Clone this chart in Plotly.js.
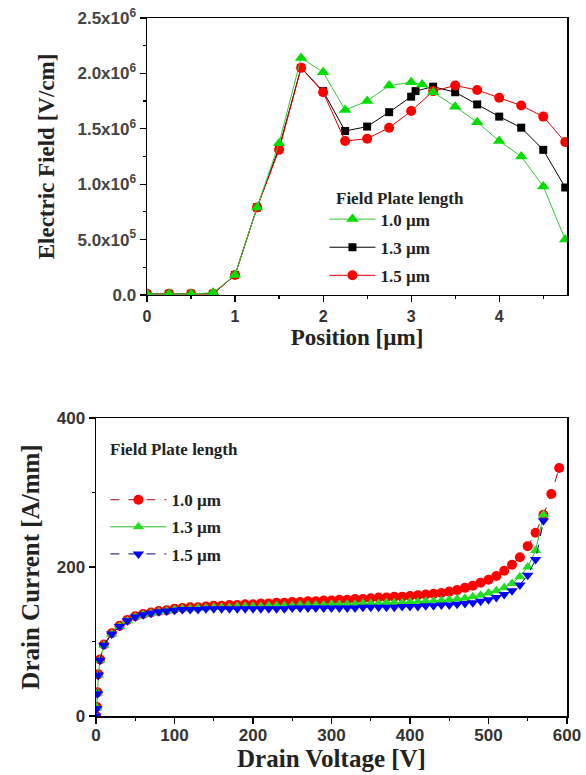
<!DOCTYPE html>
<html>
<head>
<meta charset="utf-8">
<script src="https://cdn.plot.ly/plotly-3.0.1.min.js"></script>
<style>html,body{margin:0;padding:0;background:#fff;}#chart{width:586px;height:775px;}</style>
</head>
<body>
<div id="chart"></div>
<script>
// ---- Top panel: Electric field vs position ----
const posFP10 = [0, 0.25, 0.5, 0.75, 1.0, 1.25, 1.5, 1.75, 2.0, 2.25, 2.5, 2.75, 3.0, 3.125, 3.25, 3.5, 3.75, 4.0, 4.25, 4.5, 4.75];
const fieldFP10 = [0.01e6, 0.01e6, 0.01e6, 0.02e6, 0.18e6, 0.79e6, 1.37e6, 2.14e6, 2.01e6, 1.67e6, 1.75e6, 1.89e6, 1.92e6, 1.90e6, 1.83e6, 1.70e6, 1.56e6, 1.39e6, 1.25e6, 0.98e6, 0.50e6];
const posFP13 = [0, 0.25, 0.5, 0.75, 1.0, 1.25, 1.5, 1.75, 2.0, 2.25, 2.5, 2.75, 3.0, 3.05, 3.25, 3.5, 3.75, 4.0, 4.25, 4.5, 4.75];
const fieldFP13 = [0.01e6, 0.01e6, 0.01e6, 0.01e6, 0.18e6, 0.79e6, 1.33e6, 2.05e6, 1.84e6, 1.48e6, 1.52e6, 1.65e6, 1.79e6, 1.84e6, 1.88e6, 1.83e6, 1.72e6, 1.61e6, 1.51e6, 1.31e6, 0.97e6];
const posFP15 = [0, 0.25, 0.5, 0.75, 1.0, 1.25, 1.5, 1.75, 2.0, 2.25, 2.5, 2.75, 3.0, 3.25, 3.5, 3.75, 4.0, 4.25, 4.5, 4.75];
const fieldFP15 = [0.01e6, 0.01e6, 0.01e6, 0.01e6, 0.18e6, 0.79e6, 1.31e6, 2.05e6, 1.83e6, 1.39e6, 1.41e6, 1.51e6, 1.66e6, 1.84e6, 1.89e6, 1.85e6, 1.78e6, 1.71e6, 1.61e6, 1.38e6];
const topNames = ["1.0 µm", "1.3 µm", "1.5 µm"];
const fieldTickVals = [0, 0.5e6, 1.0e6, 1.5e6, 2.0e6, 2.5e6];
const fieldTickText = ["0.0", "5.0x10<sup>5</sup>", "1.0x10<sup>6</sup>", "1.5x10<sup>6</sup>", "2.0x10<sup>6</sup>", "2.5x10<sup>6</sup>"];

// ---- Bottom panel: Drain current vs drain voltage ----
const vdShort = [0, 1, 2, 3, 5, 10, 20, 30, 40, 50, 60, 70, 80, 90, 100, 110, 120, 130, 140, 150, 160, 170, 180, 190, 200, 210, 220, 230, 240, 250, 260, 270, 280, 290, 300, 310, 320, 330, 340, 350, 360, 370, 380, 390, 400, 410, 420, 430, 440, 450, 460, 470, 480, 490, 500, 510, 520, 530, 540, 550, 560, 570];
const vdLong = [0, 1, 2, 3, 5, 10, 20, 30, 40, 50, 60, 70, 80, 90, 100, 110, 120, 130, 140, 150, 160, 170, 180, 190, 200, 210, 220, 230, 240, 250, 260, 270, 280, 290, 300, 310, 320, 330, 340, 350, 360, 370, 380, 390, 400, 410, 420, 430, 440, 450, 460, 470, 480, 490, 500, 510, 520, 530, 540, 550, 560, 570, 580, 590];
const idFP10 = [0, 12, 32, 56, 76, 96, 111, 121, 129, 134, 137, 139, 141, 142, 144, 145, 146, 146, 147, 148, 148, 149, 149, 150, 150, 151, 151, 152, 152, 153, 153, 154, 154, 155, 155, 156, 156, 157, 157, 158, 159, 159, 160, 160, 161, 162, 163, 164, 165, 167, 169, 172, 175, 179, 183, 188, 195, 203, 213, 228, 246, 270, 298, 333];
const idFP13 = [0, 11, 31, 55, 75, 95, 110, 120, 128, 133, 136, 138, 140, 141, 143, 144, 144, 145, 145, 146, 146, 146, 147, 147, 147, 147, 148, 148, 148, 148, 149, 149, 149, 149, 150, 150, 150, 150, 151, 151, 151, 152, 152, 152, 153, 153, 154, 154, 155, 156, 157, 158, 160, 162, 165, 168, 172, 178, 187, 200, 222, 270];
const idFP15 = [0, 10, 30, 55, 75, 95, 110, 120, 128, 133, 136, 138, 140, 141, 142, 143, 143, 143, 144, 144, 144, 144, 144, 144, 144, 144, 144, 144, 144, 145, 145, 145, 145, 145, 145, 145, 145, 145, 146, 146, 146, 146, 146, 147, 147, 147, 148, 148, 149, 149, 150, 151, 152, 154, 156, 159, 163, 168, 176, 189, 210, 262];
const bottomNames = ["1.0 µm", "1.3 µm", "1.5 µm"];

const serif = "Liberation Serif, Times New Roman, serif";
const sans = "Liberation Sans, Arial, sans-serif";

const traces = [
  {x: posFP13, y: fieldFP13, name: topNames[1], xaxis: "x", yaxis: "y", legend: "legend", legendrank: 2, legendgroup: "t2",
   mode: "lines+markers", line: {color: "#000000", width: 1}, marker: {symbol: "square", size: 8, color: "#000000"}},
  {x: posFP15, y: fieldFP15, name: topNames[2], xaxis: "x", yaxis: "y", legend: "legend", legendrank: 3, legendgroup: "t3",
   mode: "lines+markers", line: {color: "#e00000", width: 1}, marker: {symbol: "circle", size: 10, color: "#ff0000"}},
  {x: posFP10, y: fieldFP10, name: topNames[0], xaxis: "x", yaxis: "y", legend: "legend", legendrank: 1, legendgroup: "t1",
   mode: "lines+markers", line: {color: "#33cc33", width: 1}, marker: {symbol: "triangle-up", size: 11, color: "#00dd00"}},
  {x: vdLong, y: idFP10, name: bottomNames[0], xaxis: "x2", yaxis: "y2", legend: "legend2", legendrank: 1, legendgroup: "b1",
   mode: "lines+markers", line: {color: "#b00020", width: 1, dash: "dash"}, marker: {symbol: "circle", size: 10, color: "#ff0000"}},
  {x: vdShort, y: idFP13, name: bottomNames[1], xaxis: "x2", yaxis: "y2", legend: "legend2", legendrank: 2, legendgroup: "b2",
   mode: "lines+markers", line: {color: "#22bb22", width: 1}, marker: {symbol: "triangle-up", size: 10, color: "#22dd22"}},
  {x: vdShort, y: idFP15, name: bottomNames[2], xaxis: "x2", yaxis: "y2", legend: "legend2", legendrank: 3, legendgroup: "b3",
   mode: "lines+markers", line: {color: "#000080", width: 1, dash: "dash"}, marker: {symbol: "triangle-down", size: 10, color: "#0000ff"}}
];

const axisCommon = {
  showline: true, mirror: true, linecolor: "#000", linewidth: 1.5,
  ticks: "outside", ticklen: 6, tickwidth: 1.2, tickcolor: "#000",
  showgrid: false, zeroline: false, automargin: false
};

const layout = {
  width: 586, height: 775,
  margin: {l: 96, r: 19, t: 18, b: 59},
  paper_bgcolor: "#fff", plot_bgcolor: "#fff",
  showlegend: true,
  xaxis: Object.assign({}, axisCommon, {
    domain: [0.1083, 1], anchor: "y", range: [0, 4.77],
    tickvals: [0, 1, 2, 3, 4],
    minor: {tickvals: [0.5, 1.5, 2.5, 3.5, 4.5], ticklen: 3, tickcolor: "#000", ticks: "outside"},
    tickfont: {family: sans, size: 16, color: "#333", weight: "bold"},
    title: {text: "Position [µm]", standoff: 3, font: {family: serif, size: 23, color: "#222", weight: "bold"}}
  }),
  yaxis: Object.assign({}, axisCommon, {
    domain: [0.6032, 1], anchor: "x", range: [0, 2.5e6],
    tickvals: fieldTickVals, ticktext: fieldTickText,
    minor: {tickvals: [0.25e6, 0.75e6, 1.25e6, 1.75e6, 2.25e6], ticklen: 3, tickcolor: "#000", ticks: "outside"},
    tickfont: {family: sans, size: 17, color: "#444", weight: "bold"},
    title: {text: "Electric Field [V/cm]", standoff: 16, font: {family: serif, size: 23, color: "#222", weight: "bold"}}
  }),
  xaxis2: Object.assign({}, axisCommon, {
    domain: [0, 1], anchor: "y2", range: [0, 600],
    tickvals: [0, 100, 200, 300, 400, 500, 600],
    minor: {tickvals: [50, 150, 250, 350, 450, 550], ticklen: 3, tickcolor: "#000", ticks: "outside"},
    tickfont: {family: sans, size: 17, color: "#333", weight: "bold"},
    ticklabelstandoff: -3,
    title: {text: "Drain Voltage [V]", standoff: 0, font: {family: serif, size: 25, color: "#222", weight: "bold"}}
  }),
  yaxis2: Object.assign({}, axisCommon, {
    domain: [0, 0.4269], anchor: "x2", range: [0, 400],
    tickvals: [0, 200, 400],
    minor: {tickvals: [100, 300], ticklen: 3, tickcolor: "#000", ticks: "outside"},
    tickfont: {family: sans, size: 17, color: "#333", weight: "bold"},
    title: {text: "Drain Current [A/mm]", standoff: 10, font: {family: serif, size: 25, color: "#222", weight: "bold"}}
  }),
  legend: {
    x: 0.485, y: 0.737, xanchor: "left", yanchor: "top",
    bgcolor: "rgba(0,0,0,0)", borderwidth: 0, traceorder: "grouped",
    font: {family: serif, size: 17, color: "#222", weight: "bold"},
    itemwidth: 46, tracegroupgap: 3
  },
  legend2: {
    x: 0.02, y: 0.335, xanchor: "left", yanchor: "top",
    bgcolor: "rgba(0,0,0,0)", borderwidth: 0, traceorder: "grouped",
    font: {family: serif, size: 17, color: "#222", weight: "bold"},
    itemwidth: 56, tracegroupgap: 2
  },
  annotations: [
    {text: "Field Plate length", xref: "paper", yref: "paper", x: 0.505, y: 0.758, xanchor: "left", yanchor: "top",
     showarrow: false, font: {family: serif, size: 17, color: "#222", weight: "bold"}},
    {text: "Field Plate length", xref: "paper", yref: "paper", x: 0.025, y: 0.398, xanchor: "left", yanchor: "top",
     showarrow: false, font: {family: serif, size: 17, color: "#222", weight: "bold"}}
  ]
};

Plotly.newPlot("chart", traces, layout, {displayModeBar: false, staticPlot: true});
</script>
</body>
</html>
